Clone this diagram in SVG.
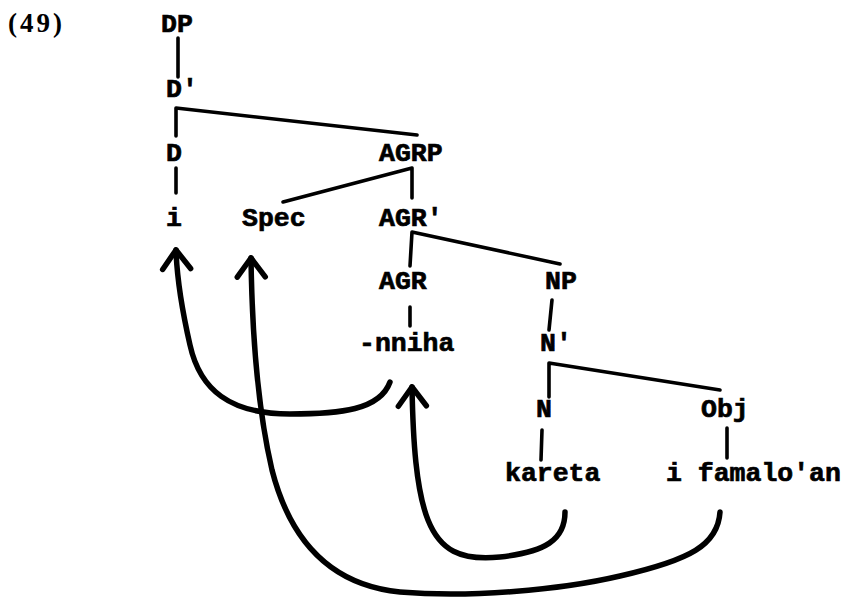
<svg xmlns="http://www.w3.org/2000/svg" width="846" height="598" viewBox="0 0 846 598">
<defs>
<style>
.t{font-family:"Liberation Mono","Courier New",monospace;font-weight:bold;font-size:26.5px;fill:#000;stroke:#000;stroke-width:0.7}
.n{font-family:"Liberation Serif","Times New Roman",serif;font-weight:bold;font-size:27px;fill:#000}
.e{stroke:#000;stroke-width:3.6;fill:none;stroke-linecap:round;stroke-linejoin:round}
.a{stroke:#000;stroke-width:5.5;fill:none;stroke-linecap:round;stroke-linejoin:round}
</style>
<marker id="ah" markerUnits="userSpaceOnUse" viewBox="-30 -20 40 40" refX="0" refY="0" markerWidth="40" markerHeight="40" orient="auto" overflow="visible">
<path d="M -19 -14 L 0 0 L -19 14" fill="none" stroke="#000" stroke-width="5.5" stroke-linecap="round" stroke-linejoin="round"/>
</marker>
</defs>
<rect width="846" height="598" fill="#fff"/>
<text class="n" x="8" y="32" textLength="54">(49)</text>
<g id="DP"><text class="t" x="161" y="32">DP</text></g>
<g id="Dbar"><text class="t" x="166" y="97">D'</text></g>
<g id="D"><text class="t" x="166" y="161">D</text></g>
<g id="AGRP"><text class="t" x="379" y="161">AGRP</text></g>
<g id="i"><text class="t" x="166" y="226">i</text></g>
<g id="Spec"><text class="t" x="242" y="226">Spec</text></g>
<g id="AGRbar"><text class="t" x="379" y="226">AGR'</text></g>
<g id="AGR"><text class="t" x="379" y="289">AGR</text></g>
<g id="NP"><text class="t" x="545" y="289">NP</text></g>
<g id="nniha"><text class="t" x="359" y="351">-nniha</text></g>
<g id="Nbar"><text class="t" x="540" y="351">N'</text></g>
<g id="N"><text class="t" x="536" y="417">N</text></g>
<g id="Obj"><text class="t" x="701" y="417">Obj</text></g>
<g id="kareta"><text class="t" x="505" y="481">kareta</text></g>
<g id="famaloan"><text class="t" x="666" y="481">i famalo'an</text></g>
<g id="connectors">
<path class="e" d="M 178 38 L 178 77"/>
<path class="e" d="M 176 136 L 176 108 L 417 135"/>
<path class="e" d="M 176 168 L 176 193"/>
<path class="e" d="M 283 202 L 412 168 L 412 198"/>
<path class="e" d="M 410 266 L 412 232 L 560 264"/>
<path class="e" d="M 410 307 L 410 326"/>
<path class="e" d="M 552 300 L 549 330"/>
<path class="e" d="M 549 397 L 549 363 L 720 390"/>
<path class="e" d="M 542 430 L 541 460"/>
<path class="e" d="M 727 428 L 727 458"/>
<path class="a" marker-end="url(#ah)" d="M 390 382 C 380 410, 340 414, 290 414 C 230 414, 200 390, 190 345 C 182 310, 177 280, 176 250"/>
<path class="a" marker-end="url(#ah)" d="M 720 512 C 718 545, 690 560, 620 576 C 560 590, 470 598, 400 592 C 330 585, 290 540, 272 470 C 258 410, 252 330, 251 258"/>
<path class="a" marker-end="url(#ah)" d="M 565 512 C 565 540, 545 552, 500 557 C 460 561, 440 550, 428 520 C 416 490, 413 440, 412 387"/>
</g>
</svg>
